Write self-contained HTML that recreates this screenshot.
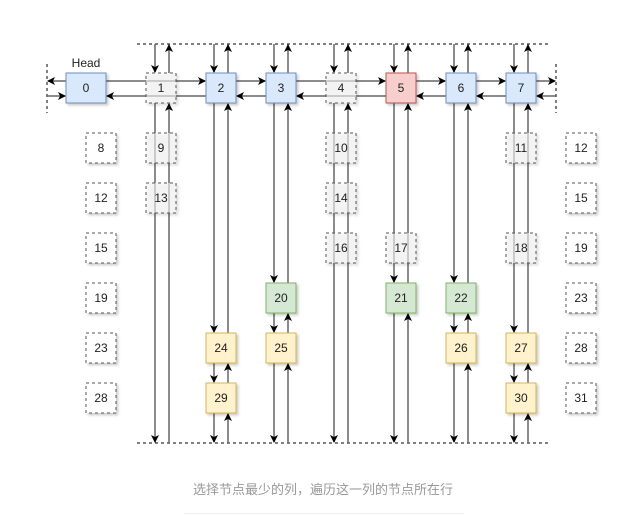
<!DOCTYPE html>
<html><head><meta charset="utf-8"><style>
html,body{margin:0;padding:0;background:#fff;width:643px;height:515px;overflow:hidden}
text{font-family:"Liberation Sans",Helvetica,Arial,sans-serif;font-size:12px;fill:#222}
</style></head><body>
<svg width="643" height="515" viewBox="0 0 643 515" xmlns="http://www.w3.org/2000/svg">
<defs>
<marker id="a" markerWidth="8" markerHeight="8" refX="7" refY="4" orient="auto" markerUnits="userSpaceOnUse"><path d="M0,0 L8,4 L0,8 L2,4 Z" fill="#000"/></marker>
<filter id="s" x="-20%" y="-20%" width="150%" height="150%"><feDropShadow dx="2" dy="2" stdDeviation="1.2" flood-color="#000" flood-opacity="0.2"/></filter>
</defs>
<!-- dashed frames -->
<g stroke="#000" stroke-width="1" stroke-dasharray="3,3" fill="none">
<line x1="137" y1="44" x2="548" y2="44"/>
<line x1="137" y1="443" x2="548" y2="443"/>
<line x1="47" y1="64" x2="47" y2="113"/>
<line x1="556" y1="64" x2="556" y2="113"/>
</g>
<!-- horizontal connectors -->
<g stroke="#666" stroke-width="1.5" fill="none" marker-end="url(#a)">
<line x1="66" y1="81" x2="48" y2="81"/>
<line x1="47" y1="96" x2="65" y2="96"/>
<line x1="106" y1="81" x2="205" y2="81"/>
<line x1="236" y1="81" x2="265" y2="81"/>
<line x1="296" y1="81" x2="385" y2="81"/>
<line x1="416" y1="81" x2="445" y2="81"/>
<line x1="476" y1="81" x2="505" y2="81"/>
<line x1="536" y1="81" x2="555" y2="81"/>
<line x1="206" y1="96" x2="107" y2="96"/>
<line x1="266" y1="96" x2="237" y2="96"/>
<line x1="386" y1="96" x2="297" y2="96"/>
<line x1="446" y1="96" x2="417" y2="96"/>
<line x1="506" y1="96" x2="477" y2="96"/>
<line x1="556" y1="96" x2="537" y2="96"/>
</g>
<!-- vertical connectors -->
<g stroke="#666" stroke-width="1.5" fill="none" marker-end="url(#a)">
<!-- top parts -->
<line x1="155" y1="44" x2="155" y2="72"/><line x1="169" y1="73" x2="169" y2="45"/>
<line x1="214" y1="44" x2="214" y2="72"/><line x1="228" y1="73" x2="228" y2="45"/>
<line x1="274" y1="44" x2="274" y2="72"/><line x1="288" y1="73" x2="288" y2="45"/>
<line x1="334" y1="44" x2="334" y2="72"/><line x1="348" y1="73" x2="348" y2="45"/>
<line x1="394" y1="44" x2="394" y2="72"/><line x1="408" y1="73" x2="408" y2="45"/>
<line x1="454" y1="44" x2="454" y2="72"/><line x1="468" y1="73" x2="468" y2="45"/>
<line x1="514" y1="44" x2="514" y2="72"/><line x1="528" y1="73" x2="528" y2="45"/>
<!-- col1 -->
<line x1="155" y1="103" x2="155" y2="442"/><line x1="169" y1="443" x2="169" y2="104"/>
<!-- col2 -->
<line x1="214" y1="103" x2="214" y2="332"/><line x1="228" y1="333" x2="228" y2="104"/>
<line x1="214" y1="363" x2="214" y2="382"/><line x1="228" y1="383" x2="228" y2="364"/>
<line x1="214" y1="413" x2="214" y2="442"/><line x1="228" y1="443" x2="228" y2="414"/>
<!-- col3 -->
<line x1="274" y1="103" x2="274" y2="282"/><line x1="288" y1="283" x2="288" y2="104"/>
<line x1="274" y1="313" x2="274" y2="332"/><line x1="288" y1="333" x2="288" y2="314"/>
<line x1="274" y1="363" x2="274" y2="442"/><line x1="288" y1="443" x2="288" y2="364"/>
<!-- col4 -->
<line x1="334" y1="103" x2="334" y2="442"/><line x1="348" y1="443" x2="348" y2="104"/>
<!-- col5 -->
<line x1="394" y1="103" x2="394" y2="282"/><line x1="408" y1="283" x2="408" y2="104"/>
<line x1="394" y1="313" x2="394" y2="442"/><line x1="408" y1="443" x2="408" y2="314"/>
<!-- col6 -->
<line x1="454" y1="103" x2="454" y2="282"/><line x1="468" y1="283" x2="468" y2="104"/>
<line x1="454" y1="313" x2="454" y2="332"/><line x1="468" y1="333" x2="468" y2="314"/>
<line x1="454" y1="363" x2="454" y2="442"/><line x1="468" y1="443" x2="468" y2="364"/>
<!-- col7 -->
<line x1="514" y1="103" x2="514" y2="332"/><line x1="528" y1="333" x2="528" y2="104"/>
<line x1="514" y1="363" x2="514" y2="382"/><line x1="528" y1="383" x2="528" y2="364"/>
<line x1="514" y1="413" x2="514" y2="442"/><line x1="528" y1="443" x2="528" y2="414"/>
</g>
<!-- boxes -->
<g filter="url(#s)">
<!-- blue -->
<g fill="#dae8fc" stroke="#6c8ebf" stroke-width="1">
<rect x="66" y="73" width="40" height="30"/>
<rect x="206" y="73" width="30" height="30"/>
<rect x="266" y="73" width="30" height="30"/>
<rect x="446" y="73" width="30" height="30"/>
<rect x="506" y="73" width="30" height="30"/>
</g>
<rect x="386" y="73" width="30" height="30" fill="#f8cecc" stroke="#b85450"/>
<g fill="#d5e8d4" stroke="#82b366">
<rect x="266" y="283" width="30" height="30"/>
<rect x="386" y="283" width="30" height="30"/>
<rect x="446" y="283" width="30" height="30"/>
</g>
<g fill="#fff2cc" stroke="#d6b656">
<rect x="206" y="333" width="30" height="30"/>
<rect x="206" y="383" width="30" height="30"/>
<rect x="266" y="333" width="30" height="30"/>
<rect x="446" y="333" width="30" height="30"/>
<rect x="506" y="333" width="30" height="30"/>
<rect x="506" y="383" width="30" height="30"/>
</g>
<!-- dashed grey (removed) -->
<g fill="#f5f5f5" fill-opacity="0.6" stroke="#555" stroke-dasharray="3,3">
<rect x="146" y="73" width="30" height="30"/>
<rect x="146" y="133" width="30" height="30"/>
<rect x="146" y="183" width="30" height="30"/>
<rect x="326" y="73" width="30" height="30"/>
<rect x="326" y="133" width="30" height="30"/>
<rect x="326" y="183" width="30" height="30"/>
<rect x="326" y="233" width="30" height="30"/>
<rect x="386" y="233" width="30" height="30"/>
<rect x="506" y="133" width="30" height="30"/>
<rect x="506" y="233" width="30" height="30"/>
</g>
<!-- dashed white -->
<g fill="#fff" stroke="#555" stroke-dasharray="3,3">
<rect x="86" y="133" width="30" height="30"/>
<rect x="86" y="183" width="30" height="30"/>
<rect x="86" y="233" width="30" height="30"/>
<rect x="86" y="283" width="30" height="30"/>
<rect x="86" y="333" width="30" height="30"/>
<rect x="86" y="383" width="30" height="30"/>
<rect x="566" y="133" width="30" height="30"/>
<rect x="566" y="183" width="30" height="30"/>
<rect x="566" y="233" width="30" height="30"/>
<rect x="566" y="283" width="30" height="30"/>
<rect x="566" y="333" width="30" height="30"/>
<rect x="566" y="383" width="30" height="30"/>
</g>
</g>
<g text-anchor="middle">
<text x="86" y="67" font-size="12">Head</text>
<text x="86" y="92">0</text><text x="161" y="92" fill="#444">1</text><text x="221" y="92">2</text><text x="281" y="92">3</text>
<text x="341" y="92" fill="#444">4</text><text x="401" y="92">5</text><text x="461" y="92">6</text><text x="521" y="92">7</text>
<text x="101" y="152">8</text><text x="161" y="152">9</text><text x="341" y="152">10</text><text x="521" y="152">11</text><text x="581" y="152">12</text>
<text x="101" y="202">12</text><text x="161" y="202">13</text><text x="341" y="202">14</text><text x="581" y="202">15</text>
<text x="101" y="252">15</text><text x="341" y="252">16</text><text x="401" y="252">17</text><text x="521" y="252">18</text><text x="581" y="252">19</text>
<text x="101" y="302">19</text><text x="281" y="302">20</text><text x="401" y="302">21</text><text x="461" y="302">22</text><text x="581" y="302">23</text>
<text x="101" y="352">23</text><text x="221" y="352">24</text><text x="281" y="352">25</text><text x="461" y="352">26</text><text x="521" y="352">27</text><text x="581" y="352">28</text>
<text x="101" y="402">28</text><text x="221" y="402">29</text><text x="521" y="402">30</text><text x="581" y="402">31</text>
<text x="323" y="494" style="font-family:'Liberation Sans','Noto Sans CJK SC',sans-serif;font-size:13px;fill:#999">选择节点最少的列，遍历这一列的节点所在行</text>
</g>
<line x1="184" y1="513.5" x2="464" y2="513.5" stroke="#eee" stroke-width="1"/>
</svg>
</body></html>
